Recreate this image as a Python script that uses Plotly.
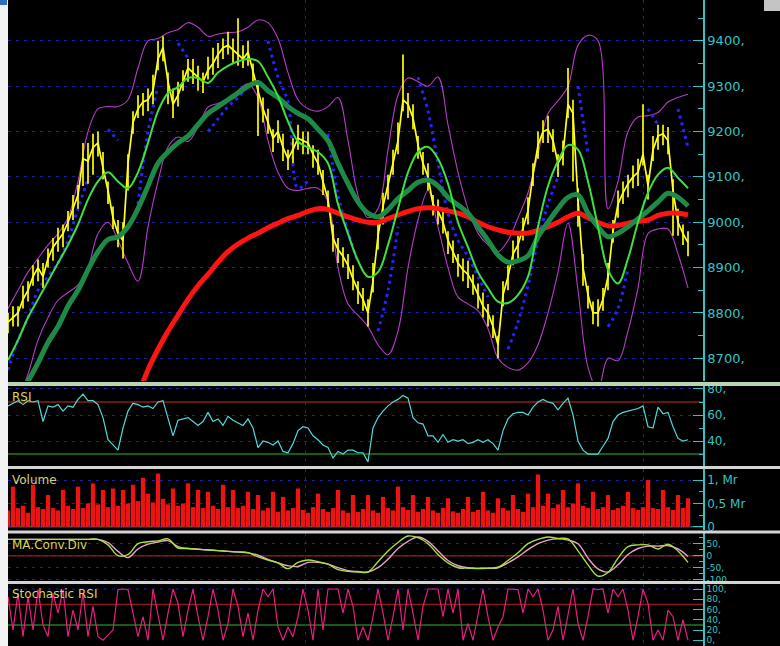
import plotly.graph_objects as go
from plotly.subplots import make_subplots

W, H = 780, 646
PLOT_L, PLOT_R = 8, 703

# ---------------- data (one value per session, sessions are 5 px apart) -------------
close = [
    8780, 8790, 8800, 8830, 8850, 8880, 8900, 8880, 8920, 8945,
    8960, 8975, 9000, 9030, 9060, 9140, 9135, 9165, 9175, 9120,
    9070, 9010, 8975, 8960, 9130, 9220, 9250, 9265, 9270, 9290,
    9360, 9385, 9310, 9260, 9280, 9310, 9340, 9330, 9320, 9310,
    9335, 9350, 9370, 9385, 9390, 9380, 9370, 9360, 9375, 9330,
    9290, 9250, 9220, 9185, 9200, 9165, 9140, 9160, 9185, 9180,
    9175, 9150, 9130, 9090, 9050, 8965, 8940, 8925, 8905, 8875,
    8850, 8830, 8800, 8870, 8970, 9035, 9080, 9130, 9180, 9270,
    9260, 9230, 9170, 9130, 9100, 9040, 9025, 9000, 8960, 8935,
    8910, 8895, 8885, 8865, 8840, 8815, 8800, 8770, 8730, 8840,
    8880, 8930, 8950, 8985, 9025, 9105, 9170, 9200, 9205, 9180,
    9130, 9150, 9260, 9240, 9050, 8900, 8840, 8800, 8800, 8830,
    8880, 8980, 9040, 9065, 9085, 9100, 9110, 9150, 9080, 9160,
    9190, 9195, 9180, 9070, 9000, 8975, 8955,
]
bar_up = [
    20, 25, 15, 30, 20, 25, 18, 30, 22, 20,
    28, 20, 25, 30, 22, 35, 40, 30, 25, 35,
    20, 25, 30, 40, 20, 25, 30, 20, 25, 35,
    40, 25, 20, 35, 30, 25, 20, 30, 25, 20,
    30, 35, 25, 20, 30, 25, 80, 30, 25, 20,
    20, 25, 30, 20, 25, 30, 20, 25, 30, 20,
    25, 20, 30, 25, 20, 30, 25, 20, 25, 30,
    20, 25, 30, 40, 35, 30, 25, 30, 40, 100,
    25, 30, 20, 25, 30, 20, 25, 30, 20, 25,
    20, 25, 30, 20, 25, 30, 20, 25, 20, 30,
    25, 30, 20, 25, 30, 25, 30, 25, 30, 25,
    20, 30, 80, 30, 25, 30, 20, 25, 30, 25,
    30, 25, 30, 25, 20, 25, 30, 110, 25, 30,
    25, 20, 30, 25, 30, 20, 25,
]
bar_dn = [
    25, 20, 30, 20, 25, 20, 30, 25, 20, 30,
    25, 30, 20, 25, 30, 60, 50, 60, 30, 25,
    30, 25, 30, 40, 60, 25, 20, 30, 25, 30,
    25, 30, 50, 30, 25, 20, 30, 25, 30, 25,
    20, 25, 30, 25, 20, 30, 25, 20, 30, 25,
    100, 30, 25, 30, 25, 30, 25, 30, 25, 30,
    25, 30, 25, 30, 25, 30, 30, 25, 30, 25,
    30, 25, 30, 25, 30, 40, 30, 25, 30, 25,
    30, 25, 30, 25, 30, 25, 30, 25, 30, 25,
    30, 25, 30, 25, 30, 25, 30, 25, 30, 25,
    30, 25, 30, 25, 30, 25, 30, 25, 30, 25,
    30, 25, 30, 150, 60, 40, 30, 25, 30, 25,
    30, 25, 30, 25, 30, 25, 30, 25, 30, 25,
    30, 25, 30, 100, 30, 25, 30,
]

# overlays: one value every 2 sessions
ma_fast = [
    8696, 8740, 8790, 8830, 8870, 8910, 8950, 8995, 9050, 9090,
    9110, 9090, 9075, 9110, 9175, 9245, 9285, 9298, 9318, 9318,
    9307, 9330, 9345, 9355, 9360, 9355, 9320, 9278, 9222, 9178,
    9165, 9155, 9130, 9040, 8975, 8915, 8880, 8890, 8950, 9030,
    9110, 9155, 9166, 9140, 9085, 9000, 8945, 8890, 8855, 8825,
    8822, 8840, 8880, 8990, 9080, 9135, 9170, 9160, 9090, 8990,
    8895, 8865, 8920, 9000, 9065, 9105, 9120, 9098, 9075,
]
ma_mid = [
    8590, 8620, 8650, 8690, 8735, 8770, 8815, 8850, 8895, 8935,
    8962, 8968, 8990, 9030, 9080, 9130, 9155, 9175, 9190, 9215,
    9240, 9255, 9270, 9285, 9300, 9308, 9290, 9275, 9255, 9240,
    9228, 9205, 9180, 9130, 9085, 9045, 9020, 9012, 9028, 9052,
    9070, 9088, 9093, 9080, 9055, 9038, 9020, 8990, 8960, 8928,
    8912, 8915, 8926, 8968, 9000, 9030, 9055, 9060, 9020, 8990,
    8968, 8976, 8990, 9008, 9025, 9045, 9064, 9055, 9036,
]
ma_slow = [
    None, None, None, None, None, None, None, None, None, None,
    None, None, 8565, 8620, 8675, 8720, 8760, 8795, 8830, 8860,
    8885, 8912, 8935, 8952, 8965, 8976, 8988, 8998, 9008, 9015,
    9024, 9030, 9028, 9020, 9012, 9005, 9000, 9000, 9008, 9016,
    9024, 9030, 9032, 9030, 9025, 9020, 9012, 9000, 8990, 8983,
    8978, 8976, 8976, 8982, 8990, 9000, 9012, 9020, 9010, 9000,
    8992, 8993, 8998, 9002, 9005, 9015, 9020, 9020, 9016,
]
bb_upper = [
    8810, 8850, 8890, 8920, 8950, 8975, 9010, 9090, 9200, 9250,
    9255, 9255, 9270, 9340, 9400, 9405, 9418, 9425, 9440, 9430,
    9410, 9415, 9418, 9420, 9430, 9446, 9440, 9405, 9330, 9270,
    9250, 9245, 9255, 9275, 9180, 9060, 9010, 9030, 9160, 9280,
    9318, 9310, 9300, 9320, 9215, 9110, 9030, 8976, 8950, 8935,
    8960, 9010, 9065, 9150, 9240, 9268, 9300, 9390, 9412, 9400,
    9030, 9090, 9200, 9232, 9235, 9242, 9265, 9275, 9282,
]
bb_lower = [
    8560, 8610, 8665, 8740, 8790, 8828, 8845, 8862, 8900, 8975,
    9000, 8960, 8910, 8870, 8990, 9090, 9166, 9188, 9178, 9210,
    9254, 9262, 9270, 9290, 9305, 9275, 9180, 9110, 9075, 9070,
    9075, 9075, 9045, 8900, 8820, 8795, 8770, 8730, 8708, 8760,
    8900, 9005, 9070, 8990, 8900, 8835, 8820, 8805, 8765, 8700,
    8680, 8674, 8690, 8730, 8800, 8890, 8998, 8850, 8680, 8630,
    8700, 8695, 8760, 8855, 8975, 8985, 8985, 8930, 8855,
]
parabolic_sar = [
    8674, 8740, 8790, 8850, 8880, 8910, 8960, 9030, 9095, None,
    9205, 9180, None, 9040, 9200, 9300, None, 9395, 9362, None,
    9200, 9228, 9255, 9275, 9300, None, 9400, 9320, 9265, 9075,
    9092, None, 9195, 9060, 8980, 8910, None, 8760, 8850, 8990,
    None, 9320, 9245, 9130, 9020, 8960, 8925, 8880, 8835, None,
    8720, 8780, 8860, 8960, 9040, 9100, None, 9300, 9150, None,
    8770, 8810, 8900, None, 9250, 9215, None, 9250, 9165,
]

rsi = [
    67, 69, 71, 68, 71, 70, 71, 55, 67, 66,
    68, 63, 67, 66, 72, 76, 71, 71, 68, 58,
    41, 37, 33, 50, 63, 69, 68, 66, 67, 65,
    70, 71, 58, 44, 56, 57, 58, 55, 52, 55,
    62, 55, 57, 52, 59, 56, 54, 52, 57, 50,
    35, 40, 39, 37, 40, 32, 31, 38, 48, 51,
    50, 44, 41, 37, 35, 27, 32, 30, 33, 33,
    31, 31, 24, 50, 58, 63, 67, 70, 72, 75,
    73, 58, 54, 53, 44, 44, 39, 45, 39, 41,
    40, 41, 38, 39, 41, 39, 41, 38, 33, 48,
    57, 61, 62, 62, 60, 66, 70, 72, 70, 69,
    64, 69, 73, 60, 40, 33, 30, 30, 30, 36,
    42, 55, 60, 62, 63, 64, 65, 67, 51, 50,
    66, 61, 62, 51, 42, 40, 41,
]
volume_m = [
    0.35, 0.86, 0.40, 0.45, 0.30, 0.90, 0.42, 0.38, 0.68, 0.40,
    0.35, 0.79, 0.45, 0.38, 0.86, 0.40, 0.50, 0.93, 0.48, 0.79,
    0.42, 0.82, 0.45, 0.79, 0.50, 0.90, 0.55, 1.05, 0.71, 0.52,
    1.14, 0.60, 0.48, 0.82, 0.45, 0.50, 0.93, 0.42, 0.79, 0.40,
    0.75, 0.45, 0.38, 0.90, 0.42, 0.79, 0.40, 0.45, 0.75, 0.38,
    0.68, 0.35, 0.40, 0.75, 0.32, 0.64, 0.35, 0.40, 0.82, 0.36,
    0.30, 0.42, 0.71, 0.38, 0.32, 0.40, 0.79, 0.35, 0.30, 0.68,
    0.32, 0.38, 0.68, 0.35, 0.30, 0.64, 0.40, 0.35, 0.86, 0.42,
    0.36, 0.68, 0.32, 0.38, 0.64, 0.35, 0.30, 0.40, 0.61, 0.33,
    0.30, 0.38, 0.64, 0.32, 0.36, 0.75, 0.35, 0.30, 0.61, 0.40,
    0.35, 0.68, 0.38, 0.32, 0.71, 0.42, 1.12, 0.45, 0.71, 0.40,
    0.48, 0.79, 0.42, 0.50, 0.93, 0.45, 0.40, 0.75, 0.38, 0.42,
    0.68, 0.36, 0.40, 0.45, 0.75, 0.40, 0.36, 0.42, 1.00, 0.40,
    0.38, 0.79, 0.42, 0.36, 0.68, 0.40, 0.61,
]
# MACD: one value every 2 sessions
macd_line = [
    68, 68, 68, 68, 68, 68, 68, 68, 68, 68,
    45, 0, 5, 50, 58, 62, 70, 32, 30, 27,
    24, 21, 18, 16, 13, -5, -18, -30, -54, -28,
    -18, -25, -35, -58, -65, -68, -68, -25, 20, 55,
    82, 75, 50, 5, -30, -50, -52, -54, -52, -48,
    -20, 12, 50, 68, 78, 72, 70, 20, -38, -85,
    -70, -10, 38, 45, 45, 28, 48, 20, -28,
]
macd_signal = [
    68, 68, 68, 68, 68, 68, 68, 68, 68, 68,
    55, 18, -8, 28, 48, 57, 63, 38, 30, 27,
    24, 21, 18, 15, 12, 2, -15, -30, -42, -45,
    -28, -28, -35, -50, -62, -66, -68, -50, -15, 30,
    60, 78, 60, 20, -20, -42, -50, -52, -52, -50,
    -30, -5, 25, 50, 65, 70, 65, 50, -10, -55,
    -68, -38, 5, 30, 40, 40, 42, 28, -3,
]
stoch_rsi = [
    85, 20, 92, 7, 85, 20, 99, 30, 7, 92,
    53, 99, 7, 59, 20, 92, 7, 66, 7, 0,
    10, 20, 99, 100, 99, 53, 7, 46, 0, 100,
    46, 0, 53, 100, 72, 7, 59, 100, 46, 0,
    46, 100, 59, 0, 33, 100, 66, 7, 53, 0,
    59, 100, 85, 100, 26, 0, 26, 7, 46, 100,
    59, 0, 100, 20, 100, 100, 100, 53, 100, 66,
    0, 26, 0, 46, 100, 53, 0, 46, 100, 20,
    100, 53, 0, 66, 100, 100, 100, 46, 100, 53,
    100, 0, 33, 0, 53, 100, 46, 0, 26, 46,
    100, 100, 99, 53, 100, 85, 100, 59, 0, 20,
    66, 0, 53, 100, 33, 0, 46, 100, 99, 100,
    53, 100, 85, 100, 59, 0, 46, 100, 72, 0,
    20, 0, 59, 46, 0, 40, 0,
]

price_ticks = [8700, 8800, 8900, 9000, 9100, 9200, 9300, 9400]
rsi_ticks = [40, 60, 80]
vol_ticks = [0, 0.5, 1]
vol_labels = ["0", "0,5 Mr", "1, Mr"]
macd_ticks = [-100, -50, 0, 50, 100]
macd_labels = ["-100,", "-50,", "0", "50,", "100,"]
stoch_ticks = [0, 20, 40, 60, 80, 100]
month_marks = [59.4, 127]          # session index of month boundaries
OVERBOUGHT, OVERSOLD = 70, 30

n = len(close)
for arr in (bar_up, bar_dn, rsi, volume_m, stoch_rsi):
    assert len(arr) == n, len(arr)
for arr in (ma_fast, ma_mid, ma_slow, bb_upper, bb_lower, parabolic_sar, macd_line, macd_signal):
    assert len(arr) == 69, len(arr)

t_bar = list(range(n))
t_ov = [2 * k for k in range(69)]

# ---------------- helpers (pixel -> paper) ----------------
def yp(px):
    return 1 - px / H

def xp(px):
    return (px - PLOT_L) / (PLOT_R - PLOT_L)

TEAL = "#33c4c4"
GRID = "#2020a0"
DASH = "3px,5px"
FONT = "DejaVu Sans"

fig = make_subplots(rows=5, cols=1, shared_xaxes=True, vertical_spacing=0.0)

# ---- price panel ----
fig.add_trace(go.Scatter(x=t_ov, y=bb_upper, mode="lines", line=dict(color="#b43cc8", width=1.1, shape="spline")), 1, 1)
fig.add_trace(go.Scatter(x=t_ov, y=bb_lower, mode="lines", line=dict(color="#b43cc8", width=1.1, shape="spline")), 1, 1)
fig.add_trace(go.Scatter(x=t_ov, y=parabolic_sar, mode="lines", line=dict(color="#2424ff", width=3, dash="3px,4px", shape="spline")), 1, 1)

seg_x, seg_y = [], []
for t, c, u, d in zip(t_bar, close, bar_up, bar_dn):
    seg_x += [t, t, None]
    seg_y += [c - d, c + u, None]
fig.add_trace(go.Scatter(x=seg_x, y=seg_y, mode="lines", line=dict(color="#ffff00", width=1.7)), 1, 1)
fig.add_trace(go.Scatter(x=t_bar, y=close, mode="lines", line=dict(color="#ffff20", width=1.7)), 1, 1)

fig.add_trace(go.Scatter(x=t_ov, y=ma_slow, mode="lines", line=dict(color="#ff1414", width=5, shape="spline")), 1, 1)
fig.add_trace(go.Scatter(x=t_ov, y=ma_mid, mode="lines", line=dict(color="#1f8a48", width=5, shape="spline")), 1, 1)
fig.add_trace(go.Scatter(x=t_ov, y=ma_fast, mode="lines", line=dict(color="#3ee03e", width=2, shape="spline")), 1, 1)

# ---- RSI ----
fig.add_trace(go.Scatter(x=t_bar, y=rsi, mode="lines", line=dict(color="#4fdada", width=1.2)), 2, 1)
# ---- Volume ----
fig.add_trace(go.Bar(x=t_bar, y=volume_m, marker=dict(color="#ee1212", line=dict(width=0)), width=0.85), 3, 1)
# ---- MACD ----
fig.add_trace(go.Scatter(x=t_ov, y=macd_signal, mode="lines", line=dict(color="#e8a4c4", width=1.4, shape="spline")), 4, 1)
fig.add_trace(go.Scatter(x=t_ov, y=macd_line, mode="lines", line=dict(color="#a8e040", width=1.4, shape="spline")), 4, 1)
# ---- Stochastic RSI ----
fig.add_trace(go.Scatter(x=t_bar, y=stoch_rsi, mode="lines", line=dict(color="#e81e80", width=1.2)), 5, 1)

# level lines
fig.add_hline(y=OVERBOUGHT, row=2, col=1, line=dict(color="#8c1c1c", width=1.5), layer="below")
fig.add_hline(y=OVERSOLD, row=2, col=1, line=dict(color="#1f7a1f", width=1.5), layer="below")
fig.add_hline(y=0, row=3, col=1, line=dict(color="#1f7a1f", width=1.5), layer="below")
fig.add_hline(y=0, row=4, col=1, line=dict(color="#8c1c1c", width=1.5), layer="below")
fig.add_hline(y=OVERBOUGHT, row=5, col=1, line=dict(color="#8c1c1c", width=1.5), layer="below")
fig.add_hline(y=OVERSOLD, row=5, col=1, line=dict(color="#1f7a1f", width=1.5), layer="below")
fig.add_hline(y=100, row=5, col=1, line=dict(color=GRID, width=1, dash=DASH), layer="below")

# axes
domains = [
    [yp(381), 1.0],
    [yp(466), yp(386)],
    [yp(530), yp(469)],
    [yp(581), yp(533)],
    [0.0, yp(584)],
]
ranges = [[8650, 9490], [20.8, 82.3], [-0.07, 1.238], [-105.4, 94.6], [-11.2, 109.8]]

common_y = dict(side="right", showline=True, linecolor=TEAL, linewidth=1.5,
                ticks="inside", ticklen=10, tickwidth=1.3, tickcolor=TEAL,
                zeroline=False, automargin=False, fixedrange=True,
                gridcolor=GRID, griddash=DASH, gridwidth=1)

yaxes = [
    dict(tickmode="array", tickvals=price_ticks, ticktext=[f"{v}," for v in price_ticks],
         tickfont=dict(family=FONT, size=13, color=TEAL), showgrid=True,
         minor=dict(ticks="inside", ticklen=5, tickcolor=TEAL, dtick=50, tick0=0, showgrid=False)),
    dict(tickmode="array", tickvals=rsi_ticks, ticktext=[f"{v}," for v in rsi_ticks],
         tickfont=dict(family=FONT, size=12, color=TEAL), showgrid=True,
         minor=dict(ticks="inside", ticklen=4, tickcolor=TEAL, dtick=10, tick0=0, showgrid=False)),
    dict(tickmode="array", tickvals=vol_ticks, ticktext=vol_labels,
         tickfont=dict(family=FONT, size=12, color=TEAL), showgrid=True,
         minor=dict(ticks="inside", ticklen=4, tickcolor=TEAL, dtick=0.25, tick0=0, showgrid=False)),
    dict(tickmode="array", tickvals=macd_ticks, ticktext=macd_labels,
         tickfont=dict(family=FONT, size=9, color=TEAL), showgrid=True,
         minor=dict(ticks="inside", ticklen=4, tickcolor=TEAL, dtick=25, tick0=0, showgrid=False)),
    dict(tickmode="array", tickvals=stoch_ticks, ticktext=[f"{v}," for v in stoch_ticks],
         tickfont=dict(family=FONT, size=9, color=TEAL), showgrid=False),
]

layout_axes = {}
for i in range(5):
    key = "yaxis" if i == 0 else f"yaxis{i + 1}"
    d = dict(common_y)
    d.update(yaxes[i])
    d.update(domain=domains[i], range=ranges[i])
    layout_axes[key] = d
    xkey = "xaxis" if i == 0 else f"xaxis{i + 1}"
    layout_axes[xkey] = dict(range=[0, 139], showticklabels=False, tickmode="array",
                             tickvals=month_marks, showgrid=True, gridcolor=GRID,
                             griddash=DASH, gridwidth=1, zeroline=False, showline=False,
                             ticks="", fixedrange=True)
fig.update_layout(**layout_axes)

# panel titles
titles = [("RSI", 397), ("Volume", 480), ("MA.Conv.Div", 545), ("Stochastic RSI", 593.5)]
for txt, ypx in titles:
    fig.add_annotation(text=txt, xref="paper", yref="paper", x=xp(10), y=yp(ypx),
                       xanchor="left", yanchor="middle", showarrow=False,
                       font=dict(family=FONT, size=12, color="#d8d45a"))

# separators and window chrome
shapes = [
    dict(x0=xp(PLOT_L), x1=xp(W), y0=yp(386), y1=yp(382), fill="#b9d4b2"),
    dict(x0=xp(PLOT_L), x1=xp(W), y0=yp(469), y1=yp(466), fill="#d4d4d4"),
    dict(x0=xp(PLOT_L), x1=xp(W), y0=yp(533.5), y1=yp(530.5), fill="#d4d4d4"),
    dict(x0=xp(PLOT_L), x1=xp(W), y0=yp(584), y1=yp(581), fill="#d4d4d4"),
    dict(x0=xp(0), x1=xp(PLOT_L), y0=0, y1=1, fill="#f3f3f3"),
    dict(x0=xp(0), x1=xp(7), y0=yp(5), y1=1, fill="#2f6fc0"),
    dict(x0=xp(764), x1=xp(W), y0=yp(11), y1=1, fill="#c4c4c4"),
]
for s in shapes:
    fig.add_shape(type="rect", xref="paper", yref="paper", x0=s["x0"], x1=s["x1"],
                  y0=s["y0"], y1=s["y1"], fillcolor=s["fill"], line=dict(width=0), layer="above")

fig.update_layout(width=W, height=H, margin=dict(l=PLOT_L, r=W - PLOT_R, t=0, b=0, pad=0),
                  paper_bgcolor="black", plot_bgcolor="black", showlegend=False,
                  hovermode=False, bargap=0.3)

fig.write_html("out.html", config={"displayModeBar": False},
               post_script="document.body.style.margin='0';document.body.style.padding='0';"
                           "document.body.style.overflow='hidden';")
